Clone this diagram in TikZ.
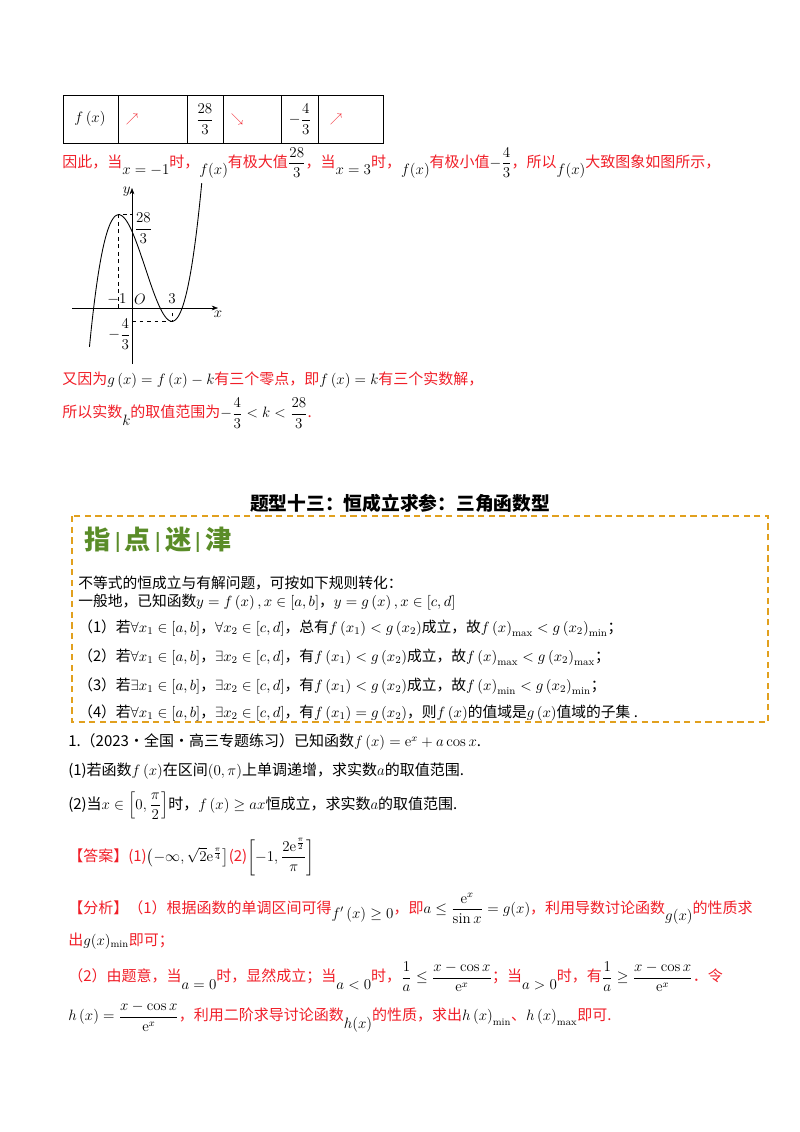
\RequirePackage{fix-cm}
\documentclass[tikz,border=0pt]{standalone}
\usepackage{fontspec}
\usepackage{amsmath,amssymb}
\usetikzlibrary{arrows.meta}
\newfontfamily\cjk{Noto Sans CJK SC}
\newcommand{\mk}[1]{{\color{black}$#1$}}
\definecolor{rd}{RGB}{240,30,40}
\definecolor{og}{RGB}{225,160,30}
\definecolor{gr}{RGB}{90,140,40}
\begin{document}
\begin{tikzpicture}[x=0.8pt,y=-0.8pt,
  txt/.style={anchor=west,inner sep=0pt,font=\cjk\fontsize{12}{14}\selectfont},
  rtxt/.style={txt,text=rd},
  btxt/.style={txt,font=\cjk\fontsize{11.8}{13}\selectfont},
  mth/.style={font=\fontsize{12}{14}\selectfont}]
\useasboundingbox (0,0) rectangle (800,1132);
% table
\draw[line width=0.8pt] (63,95) rectangle (383,143);
\foreach \xx in {118,187,223,281,318}{\draw[line width=0.8pt] (\xx,95) -- (\xx,143);}
\node[mth] (tf) at (90,119) {$f\left(x\right)$};
\node[text=rd] (t1) at (132,119) {$\nearrow$};
\node[mth] (t2) at (205,119) {$\dfrac{28}{3}$};
\node[text=rd] (t3) at (237,119) {$\searrow$};
\node[mth] (t4) at (300,119) {$-\dfrac{4}{3}$};
\node[text=rd] (t5) at (336,119) {$\nearrow$};
% line
\node[rtxt] (l1) at (62,163) {因此，当\raisebox{-6pt}{\mk{x=-1}}时，\raisebox{-6pt}{\mk{f(x)}}有极大值\mk{\dfrac{28}{3}}，当\raisebox{-6pt}{\mk{x=3}}时，\raisebox{-6pt}{\mk{f(x)}}有极小值\mk{-\dfrac{4}{3}}，所以\raisebox{-6pt}{\mk{f(x)}}大致图象如图所示，};
% graph
\begin{scope}[shift={(132,308)},mth]
\draw[-{Stealth[length=5pt]}] (-60,0) -- (86,0) node[below,inner sep=2pt] (xl) {$x$};
\draw[-{Stealth[length=5pt]}] (0,56) -- (0,-120) node[left,inner sep=1pt,yshift=-3pt] (yl) {$y$};
\begin{scope}
\clip (-60,58) rectangle (90,-125);
\draw[smooth,samples=80,domain=-3.2:5.4,line width=0.7pt] plot (\x*13.3,{-10*(\x*\x*\x/3-\x*\x-3*\x+23/3)});
\end{scope}
\draw[dashed] (-13.3,0) -- (-13.3,-93.3) -- (0,-93.3);
\draw[dashed] (0,13.3) -- (40,13.3) -- (40,0);
\node[right,inner sep=1pt] (v28) at (1,-80) {$\dfrac{28}{3}$};
\node[inner sep=0pt] (m1) at (-15,-9) {$-1$};
\node[inner sep=0pt] (oo) at (8,-9) {$O$};
\node[inner sep=0pt] (th) at (40,-9) {$3$};
\node[left,inner sep=1pt] (v4) at (0,26) {$-\dfrac{4}{3}$};
\end{scope}
\node[rtxt] (l2) at (62,380) {又因为\mk{g\left(x\right)=f\left(x\right)-k}有三个零点，即\mk{f\left(x\right)=k}有三个实数解，};
\node[rtxt] (l3) at (62,413) {所以实数\raisebox{-6pt}{\mk{k}}的取值范围为\mk{-\dfrac{4}{3}<k<\dfrac{28}{3}}.};
% title
\node[font=\cjk\bfseries\fontsize{15}{17}\selectfont] (title) at (400,503) {题型十三：恒成立求参：三角函数型};
\draw[og,line width=1.2pt,dash pattern=on 5pt off 3.5pt] (72,516) rectangle (768,722);
\node[anchor=west,text=gr,font=\cjk\bfseries\fontsize{21}{23}\selectfont] (zd) at (80,540) {指\,\raisebox{2pt}{\fontsize{14}{14}\selectfont|}\,点\,\raisebox{2pt}{\fontsize{14}{14}\selectfont|}\,迷\,\raisebox{2pt}{\fontsize{14}{14}\selectfont|}\,津};
\node[btxt] (b1) at (78,583) {不等式的恒成立与有解问题，可按如下规则转化：};
\node[btxt] (b2) at (78,602) {一般地，已知函数$y=f\left(x\right),x\in\left[a,b\right]$，$y=g\left(x\right),x\in\left[c,d\right]$};
\node[btxt] (b3) at (78,628) {（1）若$\forall x_1\in\left[a,b\right]$，$\forall x_2\in\left[c,d\right]$，总有$f\left(x_1\right)<g\left(x_2\right)$成立，故$f\left(x\right)_{\max}<g\left(x_2\right)_{\min}$；};
\node[btxt] (b4) at (78,657) {（2）若$\forall x_1\in\left[a,b\right]$，$\exists x_2\in\left[c,d\right]$，有$f\left(x_1\right)<g\left(x_2\right)$成立，故$f\left(x\right)_{\max}<g\left(x_2\right)_{\max}$；};
\node[btxt] (b5) at (78,686) {（3）若$\exists x_1\in\left[a,b\right]$，$\exists x_2\in\left[c,d\right]$，有$f\left(x_1\right)<g\left(x_2\right)$成立，故$f\left(x\right)_{\min}<g\left(x_2\right)_{\min}$；};
\node[btxt] (b6) at (78,713) {（4）若$\forall x_1\in\left[a,b\right]$，$\exists x_2\in\left[c,d\right]$，有$f\left(x_1\right)=g\left(x_2\right)$，则$f\left(x\right)$的值域是$g\left(x\right)$值域的子集\ .};
% problem
\node[txt] (p0) at (68,742) {1.（2023·全国·高三专题练习）已知函数$f\left(x\right)=\mathrm{e}^x+a\cos x$.};
\node[txt] (p1) at (68,771) {(1)若函数$f\left(x\right)$在区间$\left(0,\pi\right)$上单调递增，求实数$a$的取值范围.};
\node[txt] (p2) at (68,806) {(2)当$x\in\left[0,\dfrac{\pi}{2}\right]$时，$f\left(x\right)\ge ax$恒成立，求实数$a$的取值范围.};
\node[rtxt] (ans) at (68,857) {【答案】(1)\mk{\left(-\infty,\sqrt{2}\mathrm{e}^{\frac{\pi}{4}}\right]}(2)\mk{\left[-1,\dfrac{2\mathrm{e}^{\frac{\pi}{2}}}{\pi}\right]}};
\node[rtxt] (a1) at (68,909) {【分析】（1）根据函数的单调区间可得\raisebox{-4pt}{\mk{f'\left(x\right)\ge0}}，即\mk{a\le\dfrac{\mathrm{e}^x}{\sin x}=g(x)}，利用导数讨论函数\raisebox{-6pt}{\mk{g(x)}}的性质求};
\node[rtxt] (a2) at (68,941) {出\mk{g(x)_{\min}}即可；};
\node[rtxt] (a3) at (68,977) {（2）由题意，当\raisebox{-6pt}{\mk{a=0}}时，显然成立；当\raisebox{-6pt}{\mk{a<0}}时，\mk{\dfrac{1}{a}\le\dfrac{x-\cos x}{\mathrm{e}^x}}；当\raisebox{-6pt}{\mk{a>0}}时，有\mk{\dfrac{1}{a}\ge\dfrac{x-\cos x}{\mathrm{e}^x}}．令};
\node[rtxt] (a4) at (68,1017) {\mk{h\left(x\right)=\dfrac{x-\cos x}{\mathrm{e}^x}}，利用二阶求导讨论函数\raisebox{-6pt}{\mk{h(x)}}的性质，求出\mk{h\left(x\right)_{\min}}、\mk{h\left(x\right)_{\max}}即可.};
\end{tikzpicture}
\end{document}
